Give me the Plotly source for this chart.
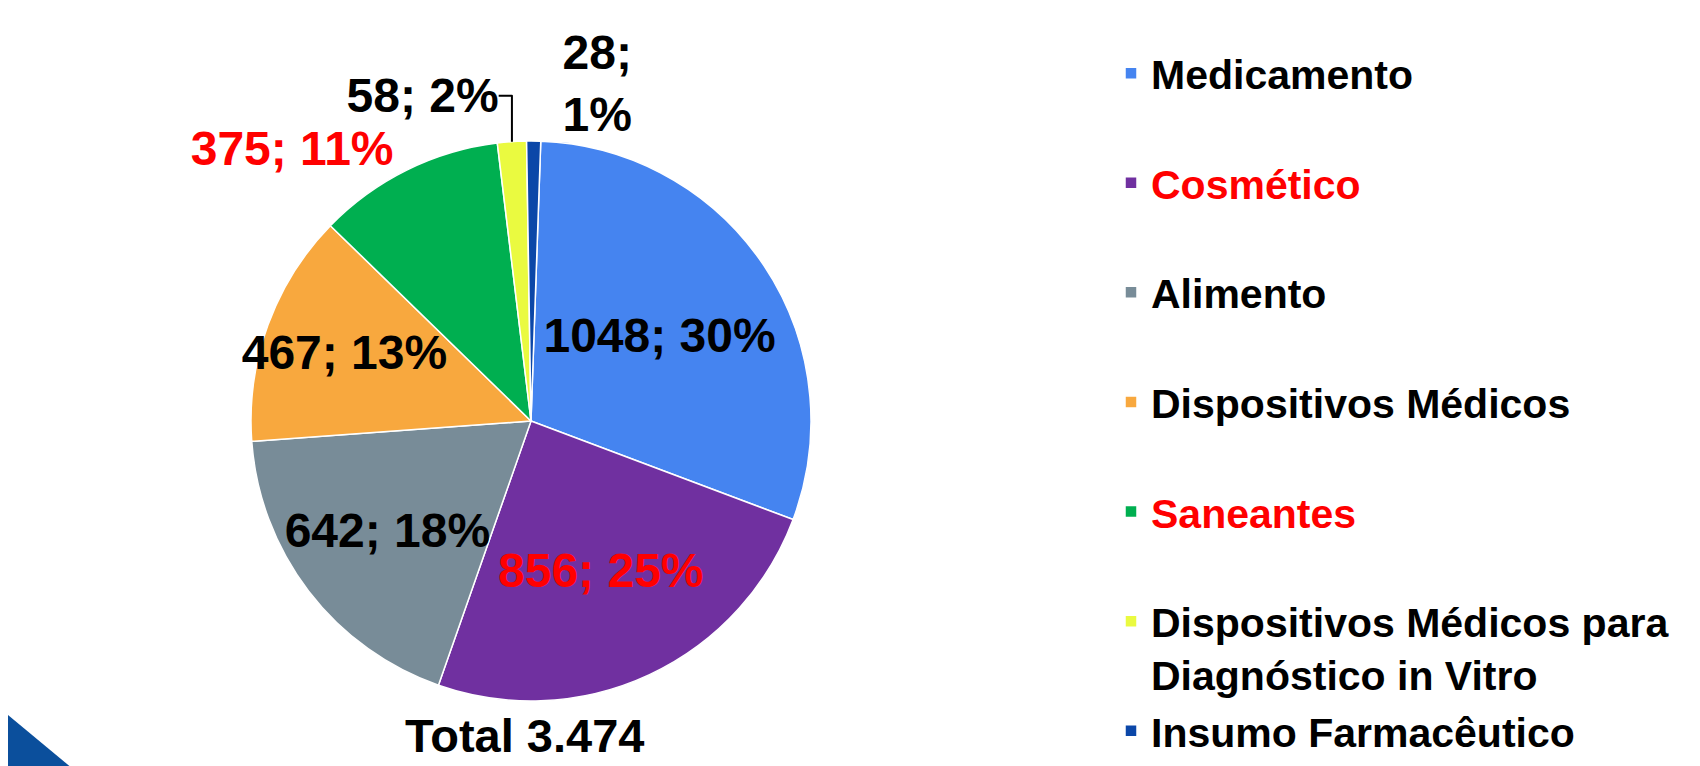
import plotly.graph_objects as go

categories = ["Medicamento", "Cosmético", "Alimento", "Dispositivos Médicos",
              "Saneantes", "Dispositivos Médicos para<br>Diagnóstico in Vitro",
              "Insumo Farmacêutico"]
values = [1048, 856, 642, 467, 375, 58, 28]
total_label = "Total 3.474"

colors = ["#4584F0", "#7030A0", "#788C98", "#F8A83E", "#00AF50", "#EAFA40", "#0B47A8"]
label_colors = ["black", "red", "black", "black", "red", "black", "black"]
text_pos = ["inside", "inside", "inside", "inside", "outside", "outside", "outside"]
templates = ["%{value}; %{percent:.0%}"] * 6 + ["%{value};<br>%{percent:.0%}"]

legend_labels = []
for i, (c, col) in enumerate(zip(categories, label_colors)):
    txt = c if ("<br>" in c or i == len(categories) - 1) else c + "<br> "
    if col == "red":
        txt = "<span style='color:red'>" + txt + "</span>"
    legend_labels.append(txt)

W, H = 1700, 766
cx, cy, r = 523, 413, 280
FONT = "Liberation Sans, Arial, sans-serif"

fig = go.Figure(go.Pie(
    labels=legend_labels,
    values=values,
    sort=False,
    direction="clockwise",
    rotation=2,
    marker=dict(colors=colors, line=dict(color="white", width=1.5)),
    texttemplate=templates,
    textposition=text_pos,
    textfont=dict(color=label_colors, size=48, family=FONT, weight="bold"),
    insidetextorientation="horizontal",
    domain=dict(x=[(cx - r) / W, (cx + r) / W], y=[1 - (cy + r) / H, 1 - (cy - r) / H]),
    hoverinfo="label+value+percent",
))

fig.update_layout(
    width=W, height=H,
    margin=dict(l=0, r=0, t=0, b=0, autoexpand=False),
    paper_bgcolor="white",
    plot_bgcolor="white",
    uniformtext=dict(minsize=48, mode="show"),
    legend=dict(
        x=1103 / W, y=1 - 32 / H, xanchor="left", yanchor="top",
        valign="top",
        maxheight=1,
        font=dict(size=41, family=FONT, color="black", weight="bold"),
        traceorder="normal",
        itemclick=False,
    ),
    annotations=[dict(
        text=total_label, x=516 / W, y=1 - 727 / H, xref="paper", yref="paper",
        xanchor="center", yanchor="middle",
        showarrow=False, font=dict(size=47, family=FONT, color="black", weight="bold"),
    )],
    shapes=[dict(
        type="path", xref="paper", yref="paper",
        path="M 0 0 L {:.4f} 0 L 0 {:.4f} Z".format(71 / W, 59 / H),
        fillcolor="#0B4F9C", line=dict(width=0),
    )],
)

fig.write_html("out.html")
